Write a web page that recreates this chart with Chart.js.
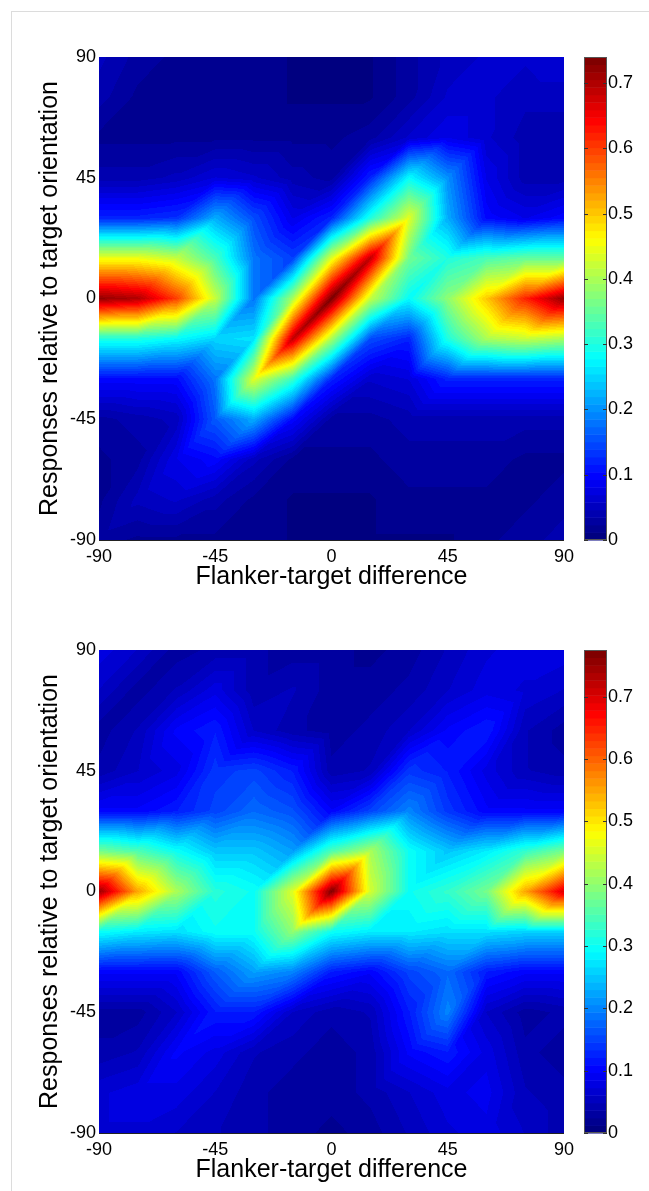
<!DOCTYPE html>
<html>
<head>
<meta charset="utf-8">
<script src="https://cdn.jsdelivr.net/npm/chart.js@4.4.1/dist/chart.umd.min.js"></script>
<style>
  html, body { margin: 0; padding: 0; background: #fff; }
  body { width: 649px; height: 1191px; position: relative; overflow: hidden; }
  #frame { position: absolute; left: 11px; top: 11px; width: 700px; height: 1300px;
           border-left: 1px solid #dcdcdc; border-top: 1px solid #dcdcdc; }
  canvas { position: absolute; }
</style>
</head>
<body>
<div id="frame"></div>
<canvas id="map1" width="580" height="600" style="left:0;top:0"></canvas>
<canvas id="bar1" width="79" height="600" style="left:570px;top:0"></canvas>
<canvas id="map2" width="580" height="600" style="left:0;top:593px"></canvas>
<canvas id="bar2" width="79" height="600" style="left:570px;top:593px"></canvas>
<script>
// grid of flanker-target differences (columns) and responses (rows, top to bottom)
const xAngles = [-90, -75, -60, -45, -30, -15, 0, 15, 30, 45, 60, 75, 90];
const yAngles = [90, 75, 60, 45, 30, 15, 0, -15, -30, -45, -60, -75, -90];
const axisTicks = [-90, -45, 0, 45, 90];
const colorTicks = [0, 0.1, 0.2, 0.3, 0.4, 0.5, 0.6, 0.7];
const colorMax = [0.74, 0.775];

// upper panel
const topPanel = [
  [0.05, 0.03, 0.02, 0.02, 0.02, 0.01, 0.01, 0.01, 0.03, 0.05, 0.06, 0.06, 0.07],
  [0.04, 0.02, 0.02, 0.02, 0.02, 0.01, 0.01, 0.01, 0.03, 0.06, 0.06, 0.05, 0.05],
  [0.02, 0.02, 0.02, 0.02, 0.02, 0.02, 0.02, 0.03, 0.06, 0.08, 0.06, 0.04, 0.04],
  [0.04, 0.04, 0.05, 0.07, 0.06, 0.04, 0.03, 0.12, 0.28, 0.20, 0.08, 0.04, 0.04],
  [0.12, 0.12, 0.13, 0.22, 0.15, 0.08, 0.12, 0.30, 0.44, 0.22, 0.10, 0.08, 0.10],
  [0.45, 0.45, 0.42, 0.33, 0.18, 0.14, 0.44, 0.69, 0.36, 0.30, 0.33, 0.35, 0.35],
  [0.72, 0.70, 0.60, 0.42, 0.18, 0.40, 0.74, 0.42, 0.28, 0.38, 0.50, 0.62, 0.72],
  [0.30, 0.30, 0.28, 0.25, 0.26, 0.69, 0.40, 0.15, 0.12, 0.30, 0.40, 0.42, 0.40],
  [0.10, 0.10, 0.10, 0.18, 0.44, 0.32, 0.12, 0.06, 0.07, 0.12, 0.12, 0.12, 0.12],
  [0.03, 0.04, 0.05, 0.16, 0.22, 0.10, 0.03, 0.03, 0.04, 0.04, 0.04, 0.04, 0.04],
  [0.02, 0.03, 0.08, 0.10, 0.05, 0.02, 0.02, 0.02, 0.03, 0.03, 0.03, 0.02, 0.02],
  [0.02, 0.05, 0.06, 0.04, 0.02, 0.01, 0.01, 0.01, 0.02, 0.02, 0.02, 0.02, 0.03],
  [0.03, 0.02, 0.02, 0.02, 0.02, 0.01, 0.01, 0.01, 0.01, 0.01, 0.02, 0.03, 0.04]
];

// lower panel
const bottomPanel = [
  [0.08, 0.06, 0.03, 0.04, 0.04, 0.03, 0.03, 0.02, 0.03, 0.05, 0.07, 0.08, 0.08],
  [0.06, 0.03, 0.05, 0.08, 0.04, 0.05, 0.03, 0.03, 0.04, 0.06, 0.08, 0.07, 0.06],
  [0.03, 0.05, 0.10, 0.12, 0.06, 0.04, 0.03, 0.04, 0.06, 0.10, 0.12, 0.05, 0.03],
  [0.04, 0.06, 0.08, 0.14, 0.15, 0.12, 0.04, 0.05, 0.14, 0.12, 0.08, 0.05, 0.04],
  [0.10, 0.10, 0.12, 0.15, 0.18, 0.16, 0.10, 0.15, 0.20, 0.14, 0.10, 0.10, 0.10],
  [0.38, 0.35, 0.30, 0.25, 0.25, 0.22, 0.35, 0.42, 0.30, 0.25, 0.28, 0.33, 0.38],
  [0.75, 0.55, 0.42, 0.32, 0.30, 0.46, 0.77, 0.45, 0.30, 0.33, 0.38, 0.55, 0.70],
  [0.30, 0.28, 0.27, 0.30, 0.30, 0.40, 0.30, 0.28, 0.28, 0.27, 0.27, 0.26, 0.26],
  [0.10, 0.10, 0.10, 0.17, 0.22, 0.20, 0.12, 0.10, 0.15, 0.18, 0.12, 0.10, 0.10],
  [0.03, 0.03, 0.06, 0.12, 0.12, 0.06, 0.04, 0.05, 0.12, 0.20, 0.06, 0.03, 0.04],
  [0.04, 0.05, 0.10, 0.08, 0.05, 0.04, 0.03, 0.04, 0.10, 0.12, 0.08, 0.04, 0.03],
  [0.07, 0.08, 0.08, 0.06, 0.04, 0.03, 0.03, 0.04, 0.06, 0.08, 0.09, 0.05, 0.04],
  [0.07, 0.07, 0.06, 0.05, 0.04, 0.03, 0.02, 0.03, 0.05, 0.07, 0.08, 0.06, 0.04]
];

Chart.defaults.font.family = "'Liberation Sans', Arial, sans-serif";
const tickFont = { size: 18 };
const titleFont = { size: 25 };

function jet(t) {
  const k = Math.min(63, Math.max(0, Math.floor(t * 64)));
  const s = k / 63;
  const f = c => Math.round(255 * Math.min(1, Math.max(0, 1.5 - Math.abs(4 * s - c))));
  return [f(3), f(2), f(1)];
}

function findCell(arr, v) {
  for (let i = 0; i < arr.length - 1; i++) {
    const a = arr[i], b = arr[i + 1];
    if ((v - a) * (v - b) <= 0) return [i, (v - a) / (b - a)];
  }
  return [arr.length - 2, 1];
}

// linear on the two triangles of each cell (split bottom-left to top-right)
function sample(grid, xv, yv) {
  const [c, fx] = findCell(xAngles, xv);
  const [r, fy] = findCell(yAngles, yv);
  const v00 = grid[r][c], v01 = grid[r][c + 1], v10 = grid[r + 1][c], v11 = grid[r + 1][c + 1];
  if (fx + fy <= 1) return v00 + fx * (v01 - v00) + fy * (v10 - v00);
  return v11 + (1 - fx) * (v10 - v11) + (1 - fy) * (v01 - v11);
}

const heatPlugin = {
  id: 'heat',
  beforeDatasetsDraw(chart, args, opts) {
    const { ctx, chartArea: a, scales: { x, y } } = chart;
    const w = Math.round(a.right - a.left), h = Math.round(a.bottom - a.top);
    const off = document.createElement('canvas');
    off.width = w; off.height = h;
    const octx = off.getContext('2d');
    const img = octx.createImageData(w, h);
    for (let j = 0; j < h; j++) {
      const yv = y.getValueForPixel(a.top + j + 0.5);
      for (let i = 0; i < w; i++) {
        const xv = x.getValueForPixel(a.left + i + 0.5);
        const col = jet(sample(opts.grid, xv, yv) / opts.max);
        const p = (j * w + i) * 4;
        img.data[p] = col[0]; img.data[p + 1] = col[1]; img.data[p + 2] = col[2]; img.data[p + 3] = 255;
      }
    }
    octx.putImageData(img, 0, 0);
    ctx.drawImage(off, a.left, a.top);
    // bottom axis line
    ctx.save();
    ctx.strokeStyle = '#222';
    ctx.lineWidth = 1;
    ctx.beginPath();
    ctx.moveTo(a.left, a.bottom + 0.5);
    ctx.lineTo(a.right, a.bottom + 0.5);
    ctx.stroke();
    ctx.restore();
  }
};

const colorbarPlugin = {
  id: 'cbar',
  beforeDatasetsDraw(chart, args, opts) {
    const { ctx, chartArea: a, scales: { y } } = chart;
    for (let k = 0; k < 64; k++) {
      const y0 = y.getPixelForValue(k / 64 * opts.max);
      const y1 = y.getPixelForValue((k + 1) / 64 * opts.max);
      const c = jet((k + 0.5) / 64);
      ctx.fillStyle = 'rgb(' + c.join(',') + ')';
      ctx.fillRect(a.left, y1, a.right - a.left, y0 - y1 + 0.5);
    }
    ctx.save();
    ctx.strokeStyle = '#555';
    ctx.lineWidth = 1;
    ctx.strokeRect(a.left + 0.5, a.top + 0.5, a.right - a.left - 1, a.bottom - a.top - 1);
    ctx.strokeStyle = '#333';
    colorTicks.forEach(v => {
      const py = Math.round(y.getPixelForValue(v)) + 0.5;
      ctx.beginPath();
      ctx.moveTo(a.left, py); ctx.lineTo(a.left + 4, py);
      ctx.moveTo(a.right - 4, py); ctx.lineTo(a.right, py);
      ctx.stroke();
    });
    ctx.restore();
  }
};

function makeMap(id, grid, max) {
  const points = [];
  yAngles.forEach((yv, r) => xAngles.forEach((xv, c) => points.push({ x: xv, y: yv, v: grid[r][c] })));
  new Chart(document.getElementById(id), {
    type: 'scatter',
    data: { datasets: [{ data: points, pointRadius: 0, pointHoverRadius: 0 }] },
    options: {
      responsive: false,
      animation: false,
      layout: { padding: { left: 0, top: 57, right: 12, bottom: 0 } },
      plugins: { legend: { display: false }, tooltip: { enabled: false }, heat: { grid: grid, max: max } },
      scales: {
        x: {
          type: 'linear', min: -90, max: 90,
          afterBuildTicks: s => { s.ticks = axisTicks.map(v => ({ value: v })); },
          afterFit: s => { s.height = 60; },
          grid: { display: false, drawTicks: false },
          border: { display: false },
          ticks: { color: '#000', font: tickFont, padding: 6, maxRotation: 0, autoSkip: false },
          title: { display: true, text: 'Flanker-target difference', color: '#000', font: titleFont, padding: { top: 0, bottom: 8 } }
        },
        y: {
          type: 'linear', min: -90, max: 90,
          afterBuildTicks: s => { s.ticks = axisTicks.map(v => ({ value: v })); },
          afterFit: s => { s.width = 99; },
          grid: { display: false, drawTicks: false },
          border: { display: false },
          ticks: { color: '#000', font: tickFont, padding: 3, autoSkip: false },
          title: { display: true, text: 'Responses relative to target orientation', color: '#000', font: titleFont, padding: { top: 35, bottom: 0 } }
        }
      }
    },
    plugins: [heatPlugin]
  });
}

function makeBar(id, max) {
  new Chart(document.getElementById(id), {
    type: 'scatter',
    data: { datasets: [{ data: [], pointRadius: 0 }] },
    options: {
      responsive: false,
      animation: false,
      layout: { padding: { left: 14, top: 57, right: 0, bottom: 60 } },
      plugins: { legend: { display: false }, tooltip: { enabled: false }, cbar: { max: max } },
      scales: {
        x: { display: false, min: 0, max: 1 },
        y: {
          position: 'right', min: 0, max: max,
          afterBuildTicks: s => { s.ticks = colorTicks.map(v => ({ value: v })); },
          afterFit: s => { s.width = 42; },
          grid: { display: false, drawTicks: false },
          border: { display: false },
          ticks: { color: '#000', font: tickFont, padding: 1 }
        }
      }
    },
    plugins: [colorbarPlugin]
  });
}

makeMap('map1', topPanel, colorMax[0]);
makeBar('bar1', colorMax[0]);
makeMap('map2', bottomPanel, colorMax[1]);
makeBar('bar2', colorMax[1]);
</script>
</body>
</html>
